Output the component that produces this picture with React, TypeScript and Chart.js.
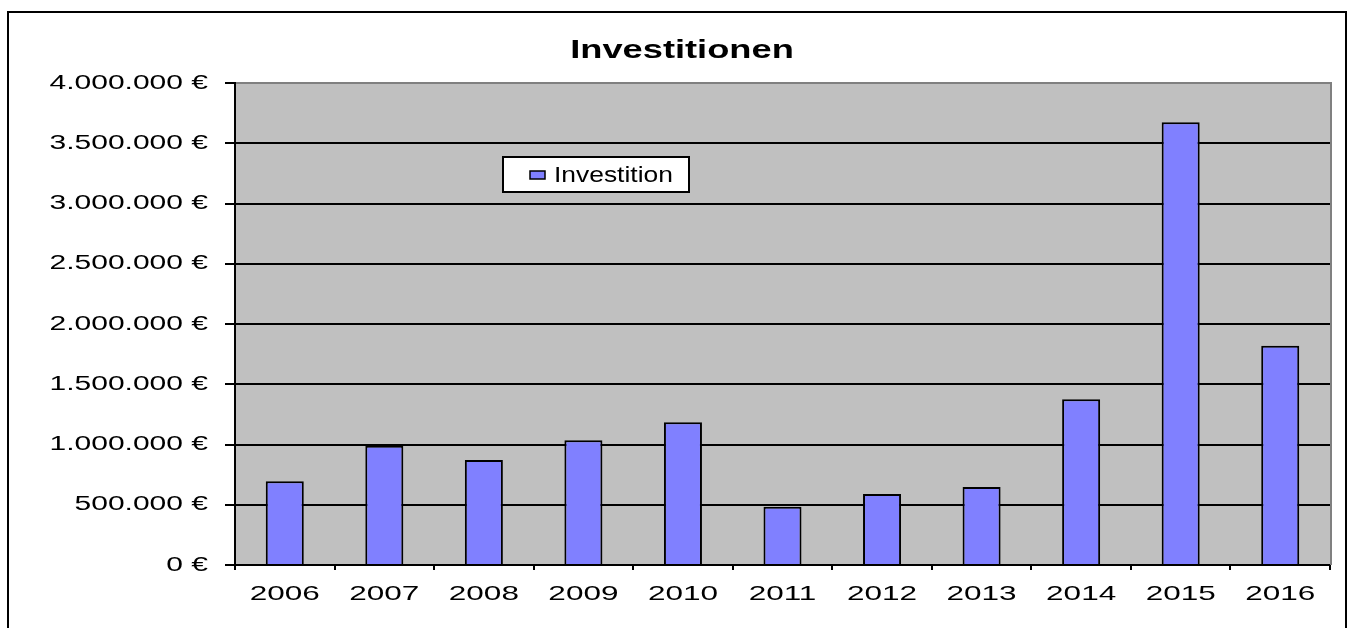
import React, { useEffect, useRef } from "react";
import { Chart, registerables } from "chart.js";

Chart.register(...registerables);

const TITLE = "Investitionen";
const SERIES_LABEL = "Investition";
const YEARS = ["2006", "2007", "2008", "2009", "2010", "2011", "2012", "2013", "2014", "2015", "2016"];
const INVEST = [695000, 990000, 872000, 1035000, 1184000, 484000, 589000, 647000, 1375000, 3674000, 1820000];
const Y_MIN = 0;
const Y_MAX = 4000000;
const Y_STEP = 500000;

const FONT = '"Liberation Sans", Arial, sans-serif';
const AXIS_SX = 1.5;
const TITLE_SX = 1.45;
const LEGEND_SX = 1.2;

function euro(v: number): string {
  const s = String(Math.round(v)).replace(/\B(?=(\d{3})+(?!\d))/g, ".");
  return s + " €";
}

// horizontally stretched text, like the reference picture
function patchContext(ctx: any) {
  if (ctx.__stretchPatched) return;
  ctx.__stretchPatched = true;
  ctx.__sx = AXIS_SX;
  const origFill = ctx.fillText.bind(ctx);
  const origMeasure = ctx.measureText.bind(ctx);
  ctx.fillText = (t: string, x: number, y: number) => {
    const sx = ctx.__sx || 1;
    ctx.save();
    ctx.translate(x, y);
    ctx.scale(sx, 1);
    origFill(t, 0, 0);
    ctx.restore();
  };
  ctx.measureText = (t: string) => {
    const m = origMeasure(t);
    const sx = ctx.__sx || 1;
    return {
      width: m.width * sx,
      actualBoundingBoxAscent: m.actualBoundingBoxAscent,
      actualBoundingBoxDescent: m.actualBoundingBoxDescent,
      actualBoundingBoxLeft: m.actualBoundingBoxLeft * sx,
      actualBoundingBoxRight: m.actualBoundingBoxRight * sx,
      fontBoundingBoxAscent: m.fontBoundingBoxAscent,
      fontBoundingBoxDescent: m.fontBoundingBoxDescent,
    };
  };
}

const excelLook = {
  id: "excelLook",
  beforeDraw(chart: any) {
    const { ctx, chartArea: a } = chart;
    ctx.save();
    ctx.fillStyle = "#ffffff";
    ctx.fillRect(0, 0, chart.width, chart.height);
    ctx.fillStyle = "#C0C0C0";
    ctx.fillRect(a.left, a.top, a.right - a.left, a.bottom - a.top);
    ctx.strokeStyle = "#000";
    ctx.lineWidth = 2;
    ctx.strokeRect(8, 12, 1338, 1000);
    ctx.__sx = TITLE_SX;
    ctx.fillStyle = "#000";
    ctx.font = `bold 25px ${FONT}`;
    ctx.textAlign = "center";
    ctx.textBaseline = "alphabetic";
    ctx.fillText(TITLE, 682, 58);
    ctx.__sx = AXIS_SX;
    ctx.restore();
  },
  afterDraw(chart: any) {
    const { ctx, chartArea: a } = chart;
    ctx.save();
    ctx.strokeStyle = "#808080";
    ctx.lineWidth = 2;
    ctx.beginPath();
    ctx.moveTo(a.left + 1, a.top);
    ctx.lineTo(a.right + 1, a.top);
    ctx.lineTo(a.right + 1, a.bottom);
    ctx.stroke();
    const ds = chart.data.datasets[0];
    ctx.fillStyle = "#ffffff";
    ctx.fillRect(503, 157, 186, 35);
    ctx.strokeStyle = "#000";
    ctx.lineWidth = 2;
    ctx.strokeRect(503, 157, 186, 35);
    ctx.fillStyle = ds.backgroundColor;
    ctx.fillRect(530, 171, 15, 8);
    ctx.lineWidth = 1.5;
    ctx.strokeRect(530, 171, 15, 8);
    ctx.__sx = LEGEND_SX;
    ctx.fillStyle = "#000";
    ctx.font = `22px ${FONT}`;
    ctx.textAlign = "left";
    ctx.textBaseline = "alphabetic";
    ctx.fillText(ds.label, 554, 182);
    ctx.__sx = AXIS_SX;
    ctx.restore();
  },
};

export default function App() {
  const ref = useRef<HTMLCanvasElement | null>(null);
  useEffect(() => {
    if (!ref.current) return;
    const c2d = ref.current.getContext("2d");
    patchContext(c2d);
    const chart = new Chart(ref.current, {
      type: "bar",
      data: {
        labels: YEARS,
        datasets: [
          {
            label: SERIES_LABEL,
            data: INVEST,
            backgroundColor: "#8080FF",
            borderColor: "#000000",
            borderWidth: 2,
            categoryPercentage: 1,
            barPercentage: 0.382,
          },
        ],
      },
      options: {
        animation: false,
        responsive: false,
        devicePixelRatio: 1,
        layout: { padding: { left: 0, right: 19, top: 83, bottom: 13 } },
        plugins: {
          legend: { display: false },
          title: { display: false },
          tooltip: { enabled: false },
        },
        scales: {
          x: {
            afterFit: (s: any) => {
              s.height = 50;
            },
            grid: {
              offset: true,
              drawOnChartArea: false,
              drawTicks: true,
              tickLength: 5,
              color: "#000",
              lineWidth: 2,
            },
            border: { display: true, color: "#000", width: 2 },
            ticks: {
              color: "#000",
              font: { family: FONT, size: 21 },
              padding: 12,
              autoSkip: false,
              maxRotation: 0,
              minRotation: 0,
            },
          },
          y: {
            min: Y_MIN,
            max: Y_MAX,
            afterFit: (s: any) => {
              s.width = 235;
            },
            grid: {
              color: "#000",
              lineWidth: 2,
              tickLength: 10,
              drawTicks: true,
            },
            border: { display: true, color: "#000", width: 2 },
            ticks: {
              stepSize: Y_STEP,
              color: "#000",
              font: { family: FONT, size: 20 },
              padding: 17,
              callback: (v: any) => euro(Number(v)),
            },
          },
        },
      },
      plugins: [excelLook],
    });
    return () => chart.destroy();
  }, []);
  return (
    <div style={{ position: "fixed", left: 0, top: 0, width: 1349, height: 628, overflow: "hidden" }}>
      <canvas ref={ref} width={1349} height={628} style={{ display: "block", width: 1349, height: 628 }} />
    </div>
  );
}
